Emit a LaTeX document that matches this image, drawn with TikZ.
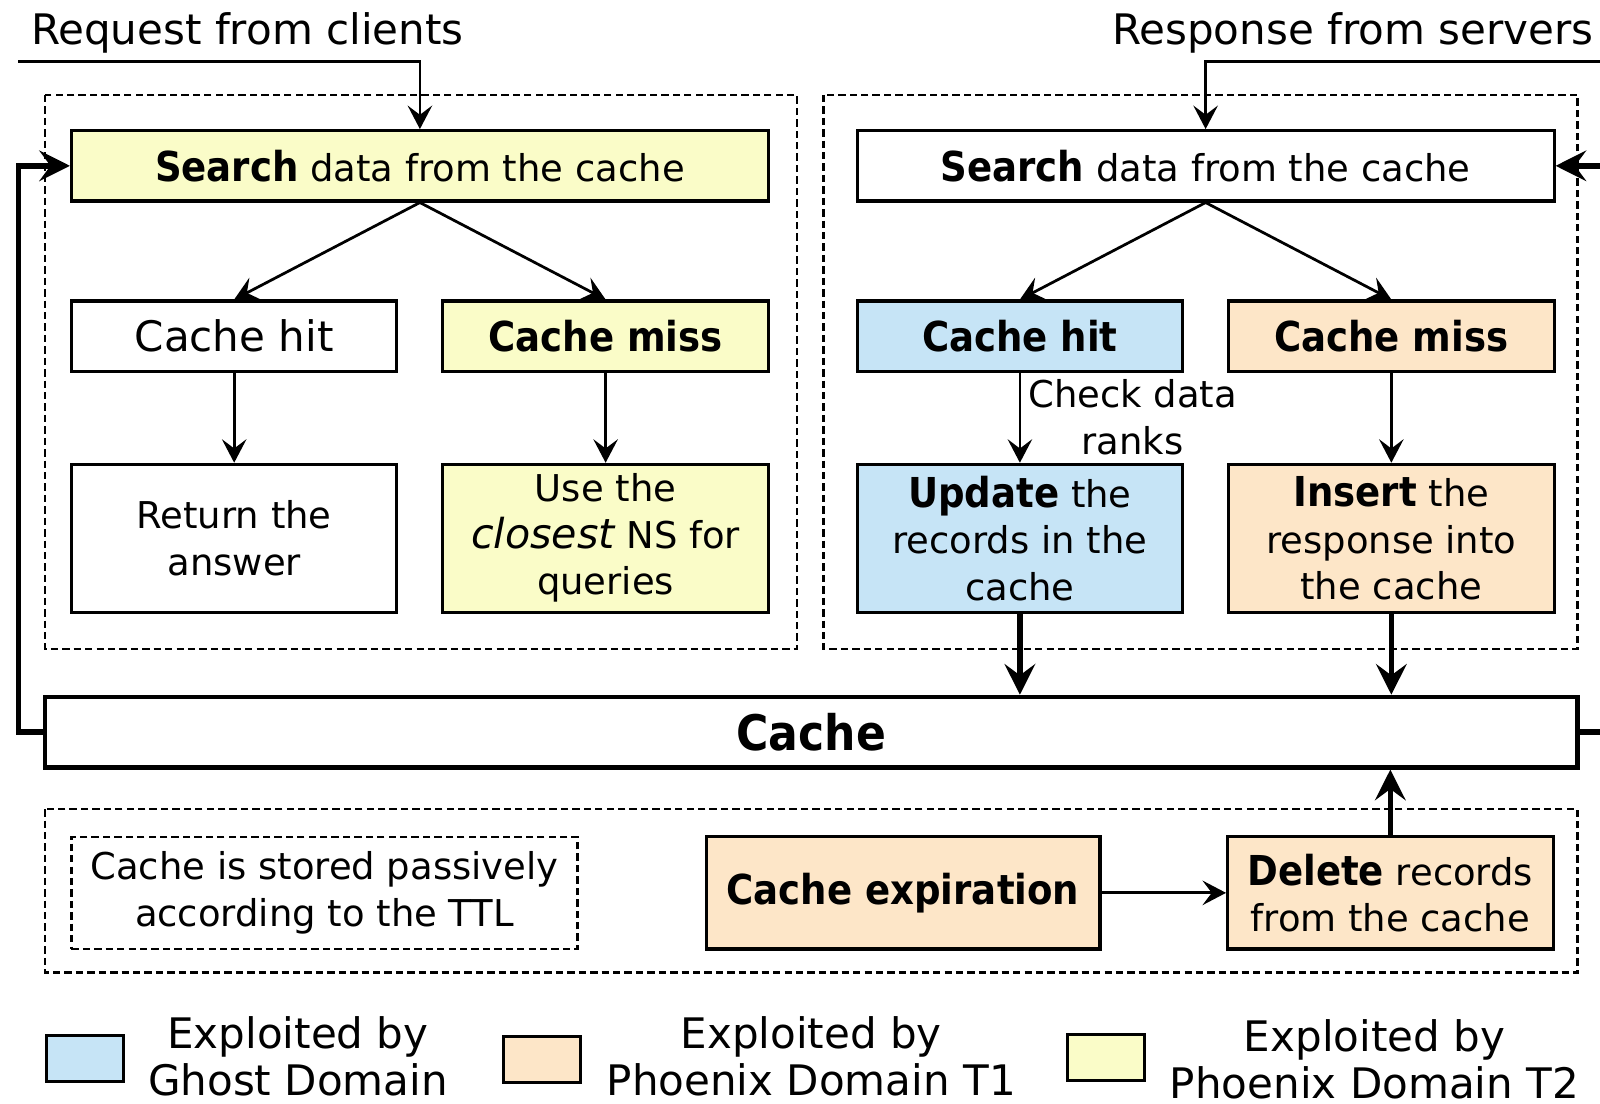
\documentclass[tikz,border=0pt]{standalone}
\usepackage{fontspec}
\setmainfont{DejaVu Sans}[BoldFont={DejaVu Sans Condensed Bold}]
\usetikzlibrary{arrows.meta}
\definecolor{cyel}{HTML}{FAFCC8}
\definecolor{cblu}{HTML}{C6E4F6}
\definecolor{corg}{HTML}{FDE6C8}
\newcommand\myB[1]{{\fontsize{20.2pt}{22.8pt}\selectfont\bfseries #1}}
\newcommand\myI[1]{{\fontsize{20.2pt}{22.8pt}\selectfont\itshape #1}}
\begin{document}
\begin{tikzpicture}[x=0.5pt,y=-0.5pt,
  txt/.style={font=\fontsize{20.6pt}{22.8pt}\selectfont, align=center, inner sep=0pt},
  small/.style={font=\fontsize{18.1pt}{22.8pt}\selectfont},
  big/.style={font=\fontsize{20.2pt}{22.8pt}\selectfont},
  box/.style={txt, draw, line width=1.5pt, minimum height=34.5pt},
  wide/.style={minimum width=341.5pt},
  half/.style={minimum width=159.5pt},
  tall/.style={minimum height=72.5pt},
  grp/.style={draw, line width=1.15pt, dash pattern=on 3.6pt off 2pt},
  arr/.style={-{Stealth[length=11.5pt,width=12pt,inset=4.5pt]}, line width=1.35pt},
  tarr/.style={-{Stealth[length=15pt,width=15pt,inset=5.5pt]}, line width=2.7pt},
  lgbox/.style={draw, line width=1.5pt, minimum width=37.5pt, minimum height=22.5pt, inner sep=0pt},
]
\clip (0,0) rectangle (1568,1081);
\useasboundingbox (0,0) rectangle (1568,1081);
\fill[white] (0,0) rectangle (1568,1081);

% group frames
\draw[grp] (44,93) rectangle (781,636);
\draw[grp] (807,93) rectangle (1546,636);
\draw[grp] (44,793) rectangle (1546,953);

% titles
\node[txt, anchor=base west] (reqt) at (30,44) {Request from clients};
\node[txt, anchor=base east] (rest) at (1562,44) {Response from servers};

% left column
\node[box, small, wide, fill=cyel] (sL) at (411.5,162.5) {\myB{Search} data from the cache};
\node[box, half] (hL) at (229.5,329.5) {Cache hit};
\node[box, big, half, fill=cyel] (mL) at (593.5,329.5) {\textbf{Cache miss}};
\node[box, small, half, tall] (rL) at (229.5,527.5) {Return the\\answer};
\node[box, small, half, tall, fill=cyel] (uL) at (593.5,527.5) {Use the\\\myI{closest} NS for\\queries};

% right column
\node[box, small, wide] (sR) at (1181.5,162.5) {\myB{Search} data from the cache};
\node[box, big, half, fill=cblu] (hR) at (999.5,329.5) {\textbf{Cache hit}};
\node[box, big, half, fill=corg] (mR) at (1363.5,329.5) {\textbf{Cache miss}};
\node[box, small, half, tall, fill=cblu] (upd) at (999.5,527.5) {\myB{Update} the\\records in the\\cache};
\node[box, small, half, tall, fill=corg] (ins) at (1363.5,527.5) {\myB{Insert} the\\response into\\the cache};
\node[txt, small] (chk) at (1110,409) {Check data\\ranks};

% cache
\node[txt, draw, line width=2.2pt, minimum width=751pt, minimum height=34.5pt,
      font=\fontsize{24pt}{28pt}\selectfont\bfseries] (cache) at (795,717.5) {Cache};

% bottom group
\node[txt, small, grp, minimum width=248pt, minimum height=55pt] (ttl) at (318,875) {Cache is stored passively\\according to the TTL};
\node[box, big, fill=corg, minimum width=193pt, minimum height=55pt] (exp) at (885,875) {\textbf{Cache expiration}};
\node[box, small, fill=corg, minimum width=159.5pt, minimum height=55pt] (del) at (1362.5,875) {\myB{Delete} records\\from the cache};

% legend
\node[lgbox, fill=cblu] (lg1) at (83.5,1037.5) {};
\node[txt] (lt1) at (292,1035) {Exploited by\\Ghost Domain};
\node[lgbox, fill=corg] (lg2) at (531,1038.5) {};
\node[txt] (lt2) at (795,1035) {Exploited by\\Phoenix Domain T1};
\node[lgbox, fill=cyel] (lg3) at (1084,1036.5) {};
\node[txt] (lt3) at (1347,1038) {Exploited by\\Phoenix Domain T2};

% connectors
\coordinate (reqs) at (18,60);
\coordinate (ress) at (1575,60);
\draw[arr] (reqs) -| (sL.north);
\draw[arr] (ress) -| (sR.north);
\draw[arr] (sL.south) -- (hL.north);
\draw[arr] (sL.south) -- (mL.north);
\draw[arr] (hL.south) -- (rL.north);
\draw[arr] (mL.south) -- (uL.north);
\draw[arr] (sR.south) -- (hR.north);
\draw[arr] (sR.south) -- (mR.north);
\draw[arr] (hR.south) -- (upd.north);
\draw[arr] (mR.south) -- (ins.north);
\draw[tarr] (upd.south) -- (upd.south |- cache.north);
\draw[tarr] (ins.south) -- (ins.south |- cache.north);
\draw[tarr] (del.north) -- (del.north |- cache.south);
\draw[arr] (exp.east) -- (del.west);
\coordinate (lp) at (18,717.5);
\coordinate (rp) at (1575,717.5);
\draw[tarr, line join=miter] (cache.west) -- (lp) |- (sL.west);
\draw[tarr, line join=miter] (cache.east) -- (rp) |- (sR.east);
\end{tikzpicture}
\end{document}
